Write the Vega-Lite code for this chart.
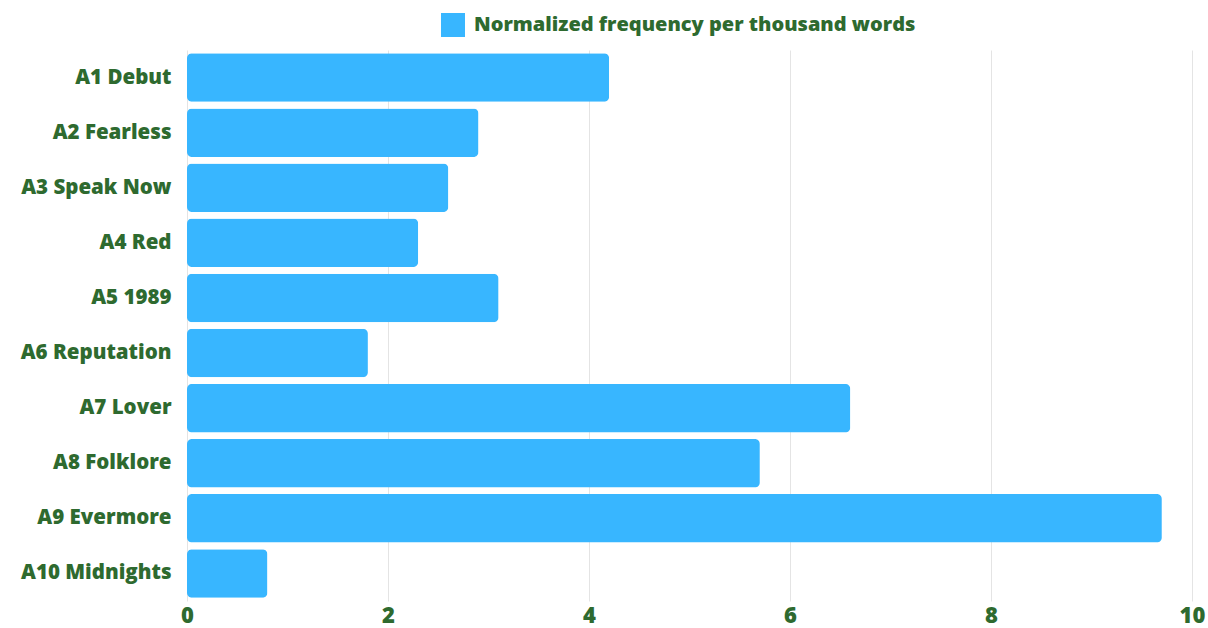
{
  "$schema": "https://vega.github.io/schema/vega-lite/v6.json",
  "width": 1005,
  "height": 551,
  "autosize": {"type": "none"},
  "padding": {"left": 187, "top": 50, "right": 16, "bottom": 27},
  "background": "white",
  "config": {
    "view": {"stroke": null},
    "font": "Open Sans"
  },
  "data": {
    "values": [
      {"album": "A1 Debut", "value": 4.2},
      {"album": "A2 Fearless", "value": 2.9},
      {"album": "A3 Speak Now", "value": 2.6},
      {"album": "A4 Red", "value": 2.3},
      {"album": "A5 1989", "value": 3.1},
      {"album": "A6 Reputation", "value": 1.8},
      {"album": "A7 Lover", "value": 6.6},
      {"album": "A8 Folklore", "value": 5.7},
      {"album": "A9 Evermore", "value": 9.7},
      {"album": "A10 Midnights", "value": 0.8}
    ]
  },
  "mark": {"type": "bar", "cornerRadius": 5},
  "encoding": {
    "y": {
      "field": "album",
      "type": "nominal",
      "sort": null,
      "scale": {"paddingInner": 0.12, "paddingOuter": 0.06},
      "axis": {
        "title": null,
        "domain": false,
        "ticks": false,
        "grid": false,
        "labelFont": "Open Sans",
        "labelFontWeight": 800,
        "labelFontSize": 20.5,
        "labelColor": "#2E6A2F",
        "labelPadding": 16,
        "labelLimit": 400
      }
    },
    "x": {
      "field": "value",
      "type": "quantitative",
      "scale": {"domain": [0, 10], "nice": false},
      "axis": {
        "title": null,
        "domain": false,
        "ticks": false,
        "grid": true,
        "gridColor": "#e4e4e4",
        "gridWidth": 1,
        "values": [0, 2, 4, 6, 8, 10],
        "labelFont": "Open Sans",
        "labelFontWeight": 800,
        "labelFontSize": 22,
        "labelColor": "#2E6A2F",
        "labelPadding": 4,
        "labelFlush": false
      }
    },
    "color": {
      "datum": "Normalized frequency per thousand words",
      "type": "nominal",
      "scale": {"range": ["#38B6FF"]},
      "legend": {
        "title": null,
        "orient": "none",
        "legendX": 254,
        "legendY": -37,
        "symbolType": "square",
        "symbolSize": 576,
        "symbolStrokeWidth": 0,
        "symbolOpacity": 1,
        "labelFont": "Open Sans",
        "labelFontWeight": 800,
        "labelFontSize": 20,
        "labelColor": "#2E6A2F",
        "labelOffset": 9,
        "labelLimit": 800
      }
    }
  }
}
